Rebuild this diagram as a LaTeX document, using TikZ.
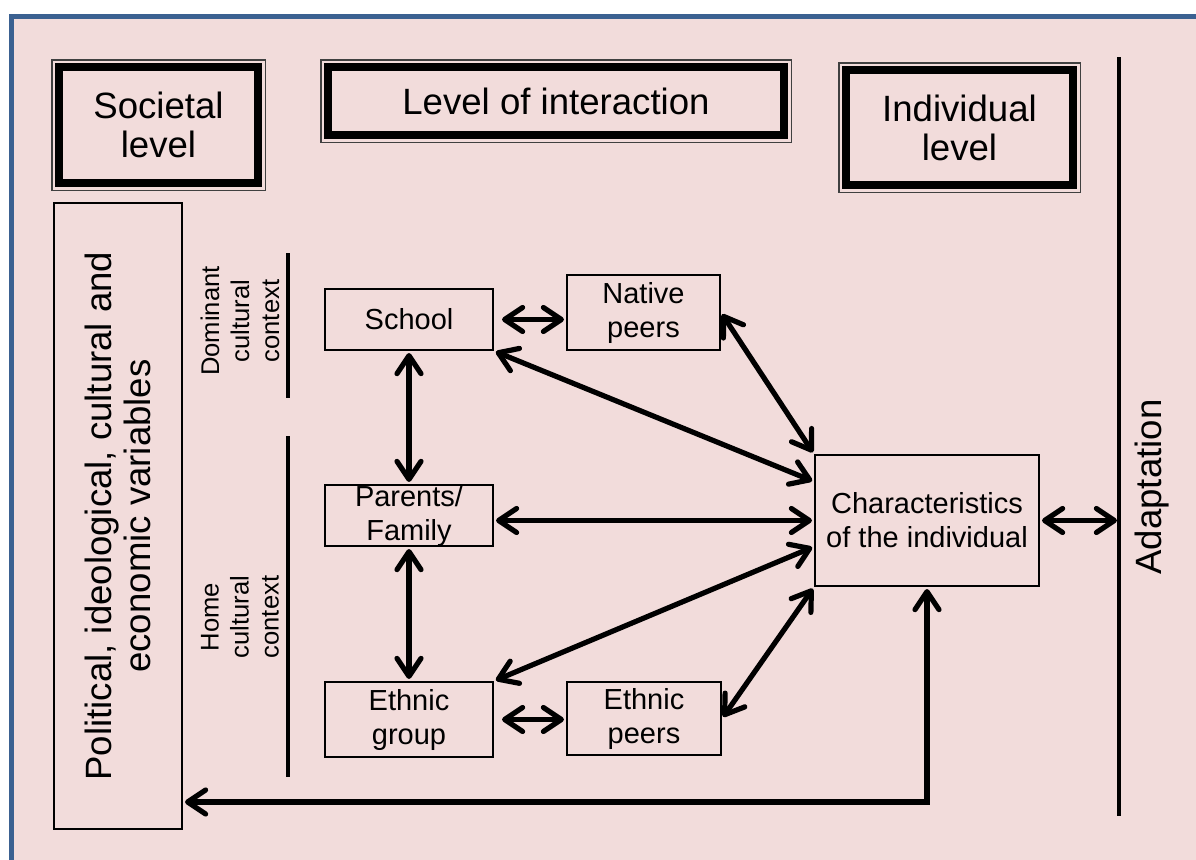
\documentclass[tikz,border=0pt]{standalone}
\usepackage{fontspec}
\setmainfont{Liberation Sans}
\usetikzlibrary{arrows.meta,calc}
\definecolor{bgpink}{HTML}{F2DCDB}
\definecolor{frameblue}{HTML}{3B6191}
\begin{document}
\begin{tikzpicture}[
    x=0.5pt, y=-0.5pt,
    >={Straight Barb[length=9pt, width=12pt, round]},
    bigtext/.style={font=\fontsize{18.3}{19.5}\selectfont},
    smalltext/.style={font=\fontsize{14.5}{17}\selectfont},
    ctxtext/.style={font=\fontsize{12.8}{15}\selectfont, align=center, inner sep=0pt},
    levelbox/.style={bigtext, draw, line width=3.9pt, fill=bgpink, align=center, inner sep=0pt,
        preaction={draw=black!75, line width=7.8pt},
        preaction={draw=bgpink, line width=6.3pt}},
    box/.style={draw, line width=1pt, smalltext, align=center, inner sep=0pt},
    conn/.style={<->, line width=2.6pt, shorten >=1pt, shorten <=1pt},
    sepline/.style={line width=2pt}
]
\useasboundingbox (0,0) rectangle (1196,859);
\draw[frameblue, line width=2.5pt, fill=bgpink] (11,16.5) rectangle (1230,890);

\node[levelbox, minimum width=99.7pt, minimum height=58.2pt] (soc) at (158.5,125) {Societal\\level};
\node[levelbox, minimum width=228.2pt, minimum height=34.2pt] (inter) at (556,101) {Level of interaction};
\node[levelbox, minimum width=113.7pt, minimum height=57.7pt] (indiv) at (959.5,127.5) {Individual\\level};

\node[box, bigtext, rotate=90, minimum width=313pt, minimum height=64pt] (pol) at (118,516)
    {Political, ideological, cultural and\\economic variables};

\node[ctxtext, rotate=90] (dom) at (240,321) {Dominant\\cultural\\context};
\node[ctxtext, rotate=90] (home) at (240,617) {Home\\cultural\\context};
\draw[sepline] (288,253) -- (288,398);
\draw[sepline] (288,436) -- (288,777);

\coordinate (adtop) at (1119,57);
\coordinate (adbot) at (1119,816);
\draw[sepline] (adtop) -- (adbot);
\node[bigtext, rotate=90, inner sep=0pt] (adapt) at (1152,487) {Adaptation};

\node[box, minimum width=84pt, minimum height=30.5pt] (school) at (409,319.5) {School};
\node[box, minimum width=76.5pt, minimum height=37.5pt] (native) at (643.5,312.5) {Native\\peers};
\node[box, minimum width=84pt, minimum height=30.5pt] (family) at (409,515.5) {Parents/\\Family};
\node[box, minimum width=84pt, minimum height=37.5pt] (group) at (409,719.5) {Ethnic\\group};
\node[box, minimum width=77pt, minimum height=36.5pt] (epeers) at (644,718.5) {Ethnic\\peers};
\node[box, minimum width=112pt, minimum height=65.5pt] (indchar) at (927,520.5) {Characteristics\\of the individual};

\draw[conn, shorten <=4pt] (school.east) -- (school.east -| native.west);
\draw[conn] (school.south) -- (family.north);
\draw[conn] (family.south) -- (group.north);
\draw[conn, shorten <=4pt] (group.east) -- (group.east -| epeers.west);
\draw[conn] (school.south east) -- (indchar.161);
\draw[conn] (native.east) -- (indchar.north west);
\draw[conn] (indchar.west -| family.east) -- (indchar.west);
\draw[conn] (group.north east) -- (indchar.193);
\draw[conn] (epeers.east) -- (indchar.south west);
\draw[conn] (indchar.east) -- (indchar.east -| adtop);

\coordinate (fb) at (0,802);
\draw[conn] (indchar.south) -- (indchar.south |- fb) -- (fb -| pol.south);
\end{tikzpicture}
\end{document}
